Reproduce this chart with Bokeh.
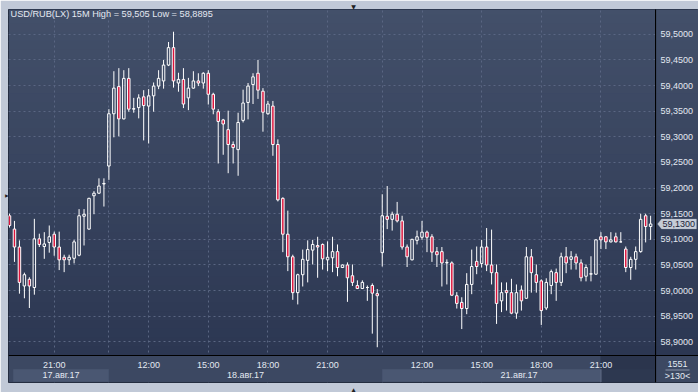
from bokeh.plotting import figure
from bokeh.models import FixedTicker, BoxAnnotation, PolyAnnotation, Label, Title, ColumnDataSource, Range1d
from bokeh.embed import file_html
from bokeh.resources import INLINE

# ---------------- data (15-minute USD/RUB candles) -------------
opens = [59.146, 59.120, 59.085, 59.009, 59.022, 59.006, 59.101, 59.086, 59.094, 59.110,
         59.085, 59.065, 59.060, 59.063, 59.069, 59.145, 59.120, 59.185, 59.190, 59.208,
         59.243, 59.345, 59.398, 59.335, 59.414, 59.354, 59.357, 59.378, 59.360, 59.380,
         59.399, 59.409, 59.440, 59.474, 59.405, 59.412, 59.376, 59.395, 59.409, 59.405,
         59.424, 59.383, 59.349, 59.333, 59.314, 59.285, 59.275, 59.332, 59.367, 59.402,
         59.424, 59.389, 59.345, 59.360, 59.285, 59.180, 59.110, 59.066, 58.996, 59.031,
         59.059, 59.079, 59.088, 59.090, 59.060, 59.064, 59.076, 59.045, 59.050, 59.029,
         59.010, 59.004, 59.006, 59.010, 58.994, 59.074, 59.145, 59.139, 59.149, 59.136,
         59.085, 59.060, 59.098, 59.104, 59.114, 59.105, 59.076, 59.076, 59.054, 59.054,
         58.990, 58.977, 58.965, 59.012, 59.057, 59.053, 59.085, 59.050, 59.035, 58.980,
         59.000, 58.996, 58.956, 59.001, 58.985, 59.066, 59.031, 59.019, 58.966, 59.010,
         59.035, 59.016, 59.066, 59.061, 59.066, 59.054, 59.028, 59.032, 59.032, 59.105,
         59.105, 59.095, 59.105, 59.095, 59.081, 59.045, 59.061, 59.076, 59.146, 59.125]
highs = [59.150, 59.136, 59.098, 59.035, 59.026, 59.140, 59.111, 59.114, 59.127, 59.115,
         59.115, 59.070, 59.070, 59.099, 59.159, 59.159, 59.181, 59.194, 59.219, 59.219,
         59.354, 59.428, 59.434, 59.430, 59.434, 59.376, 59.383, 59.391, 59.393, 59.406,
         59.430, 59.450, 59.485, 59.505, 59.425, 59.434, 59.415, 59.428, 59.424, 59.426,
         59.430, 59.386, 59.354, 59.335, 59.351, 59.291, 59.347, 59.392, 59.405, 59.424,
         59.450, 59.395, 59.370, 59.370, 59.295, 59.182, 59.156, 59.070, 59.033, 59.080,
         59.098, 59.099, 59.105, 59.092, 59.096, 59.105, 59.090, 59.051, 59.055, 59.051,
         59.020, 59.020, 59.010, 59.014, 59.003, 59.188, 59.204, 59.154, 59.173, 59.146,
         59.090, 59.101, 59.117, 59.136, 59.117, 59.110, 59.085, 59.085, 59.061, 59.057,
         58.997, 58.987, 59.034, 59.080, 59.086, 59.099, 59.122, 59.119, 59.051, 59.016,
         59.016, 59.023, 59.012, 59.010, 59.085, 59.081, 59.051, 59.022, 59.024, 59.041,
         59.043, 59.074, 59.085, 59.077, 59.072, 59.061, 59.051, 59.067, 59.100, 59.114,
         59.106, 59.114, 59.113, 59.114, 59.086, 59.066, 59.086, 59.150, 59.150, 59.146]
lows = [59.123, 59.056, 58.994, 58.985, 58.966, 58.992, 59.085, 59.062, 59.074, 59.068,
        59.040, 59.036, 59.050, 59.053, 59.067, 59.088, 59.119, 59.149, 59.189, 59.164,
        59.216, 59.299, 59.301, 59.334, 59.349, 59.347, 59.336, 59.293, 59.287, 59.349,
        59.393, 59.394, 59.438, 59.396, 59.388, 59.356, 59.352, 59.394, 59.399, 59.394,
        59.363, 59.344, 59.248, 59.265, 59.229, 59.248, 59.224, 59.328, 59.334, 59.364,
        59.374, 59.310, 59.343, 59.263, 59.174, 59.075, 59.038, 58.982, 58.973, 59.008,
        59.016, 59.051, 59.025, 59.041, 59.038, 59.036, 59.028, 59.044, 58.978, 59.009,
        59.003, 59.003, 58.980, 58.916, 58.8895, 59.047, 59.120, 59.117, 59.133, 59.080,
        59.046, 59.059, 59.090, 59.099, 59.075, 59.056, 59.046, 59.008, 59.012, 58.990,
        58.965, 58.925, 58.954, 58.993, 59.032, 59.045, 59.038, 59.012, 58.935, 58.958,
        58.961, 58.954, 58.945, 58.961, 58.984, 58.996, 58.996, 58.933, 58.962, 58.993,
        58.980, 59.009, 59.034, 59.041, 59.041, 59.018, 59.018, 59.018, 59.031, 59.081,
        59.081, 59.094, 59.094, 59.094, 59.036, 59.021, 59.041, 59.074, 59.094, 59.099]
closes = [59.127, 59.085, 59.016, 59.031, 59.009, 59.101, 59.090, 59.091, 59.105, 59.085,
          59.060, 59.060, 59.065, 59.095, 59.146, 59.149, 59.180, 59.190, 59.204, 59.209,
          59.345, 59.395, 59.335, 59.414, 59.354, 59.355, 59.376, 59.361, 59.380, 59.399,
          59.414, 59.440, 59.474, 59.409, 59.412, 59.364, 59.395, 59.409, 59.405, 59.424,
          59.383, 59.354, 59.330, 59.325, 59.285, 59.279, 59.328, 59.366, 59.399, 59.417,
          59.391, 59.348, 59.364, 59.285, 59.177, 59.110, 59.066, 58.996, 59.031, 59.061,
          59.080, 59.090, 59.085, 59.062, 59.065, 59.076, 59.045, 59.050, 59.025, 59.016,
          59.004, 59.016, 59.006, 58.995, 58.990, 59.146, 59.139, 59.149, 59.136, 59.085,
          59.066, 59.100, 59.105, 59.114, 59.104, 59.075, 59.070, 59.054, 59.055, 58.991,
          58.975, 58.965, 59.012, 59.047, 59.047, 59.085, 59.050, 59.035, 58.975, 58.996,
          58.996, 58.956, 58.996, 58.980, 59.066, 59.035, 59.016, 58.961, 59.016, 59.037,
          59.016, 59.066, 59.054, 59.066, 59.054, 59.025, 59.045, 59.033, 59.099, 59.099,
          59.095, 59.099, 59.095, 59.095, 59.045, 59.061, 59.076, 59.139, 59.125, 59.130]

title_text = "USD/RUB(LX) 15M High = 59,505 Low = 58,8895"
price_ticks = [58.90, 58.95, 59.00, 59.05, 59.10, 59.15, 59.20, 59.25, 59.30, 59.35, 59.40, 59.45, 59.50]
time_ticks = [9, 28, 40, 52, 64, 83, 95, 107, 119]
time_labels = ["21:00", "12:00", "15:00", "18:00", "21:00", "12:00", "15:00", "18:00", "21:00"]
day_starts = [0.75, 20, 75]
day_ends = [20, 75, 130]
day_labels = ["17.авг.17", "18.авг.17", "21.авг.17"]
bar_count_text = "1551"
visible_text = ">130<"

# ---------------- styling ----------------
FONT = "Liberation Sans"
TXT = "#e3e8f1"
OUTER = "#c1c9d7"
RED = "#dc143c"
GRID = "#5a6683"
PANEL = "#3c4862"
BAND = "#4a5772"

n = len(opens)
xs = list(range(n))
body_top = [max(o, c) for o, c in zip(opens, closes)]
body_bot = [min(o, c) for o, c in zip(opens, closes)]
fills = [RED if c < o else "#000000" for o, c in zip(opens, closes)]
falpha = [1.0 if c < o else 0.0 for o, c in zip(opens, closes)]

# frame covers chart + price panel + time panel: x 8..698, y 8..384 (px)
FW, FH = 690, 376          # frame size in px
CW, TH = 647, 27           # chart width, time-panel height
Y0, Y1 = 58.8207, 59.5484
UPX = (Y1 - Y0) / FH       # price units per pixel

p = figure(width=698, height=392, x_range=Range1d(-0.2, -0.2 + FW / 4.97),
           y_range=Range1d(Y0, Y1),
           y_axis_location="right", output_backend="svg", toolbar_location=None,
           min_border_left=8, min_border_top=8, min_border_right=0, min_border_bottom=8,
           border_fill_color=OUTER, background_fill_color=PANEL,
           outline_line_color="#1d2436", outline_line_width=1)


def box(l, r, b, t, color, level, alpha=1.0, lu="screen", ru="screen"):
    p.add_layout(BoxAnnotation(left=l, right=r, bottom=b, top=t, left_units=lu, right_units=ru,
                               top_units="screen", bottom_units="screen",
                               fill_color=color, fill_alpha=alpha, level=level, line_color=None))


# background gradient of chart (under grid)
top_rgb = (67, 80, 106)
bot_rgb = (44, 55, 82)
nb = 40
ch = FH - TH
for i in range(nb):
    t = (i + 0.5) / nb
    col = "#%02x%02x%02x" % tuple(int(round(a + (b - a) * t)) for a, b in zip(top_rgb, bot_rgb))
    y1 = FH - i * ch / nb
    y0 = FH - (i + 1) * ch / nb
    box(0, CW, y0 - 0.6, y1 + 0.6, col, "image")
    box(CW, FW, y0 - 0.6, y1 + 0.6, col, "underlay")   # price panel (covers grid)

# time panel and day bands (over grid)
box(0, FW, 0, TH, PANEL, "underlay")
band_cols = [BAND, PANEL, BAND]
for s, e, bc in zip(day_starts, day_ends, band_cols):
    box(s, e, 0.7, 13.3, bc, "underlay", lu="data", ru="data")
box(118.9, CW, 0.5, TH, "#28324a", "underlay", alpha=0.85, lu="data")
box(118.9, 119.1, 0.5, 13.3, "#6a7590", "underlay", lu="data", ru="data")

# black separators
box(CW - 0.5, CW + 0.6, 0, FH, "black", "annotation")
box(0, FW, TH - 0.5, TH + 0.6, "black", "annotation")
box(657, 681, 12.0, 13.0, "#8c96aa", "annotation")

# grids
p.xgrid.ticker = FixedTicker(ticks=sorted(time_ticks + day_starts[1:]))
p.xgrid.grid_line_color = GRID
p.xgrid.grid_line_dash = "2 3"
p.ygrid.grid_line_color = GRID
p.ygrid.grid_line_dash = "2 3"

# price axis (right, labels pulled into the price panel)
yax = p.yaxis[0]
yax.ticker = FixedTicker(ticks=price_ticks)
yax.major_label_overrides = {t: ("%.4f" % t).replace(".", ",") for t in price_ticks}
yax.major_tick_line_color = None
yax.minor_tick_line_color = None
yax.axis_line_color = None
yax.major_label_standoff = -44
yax.major_label_text_font = FONT
yax.major_label_text_font_size = "9px"
yax.major_label_text_color = TXT

# time axis (below, labels pulled into the time panel); day names on a second line
day_centers = [(s + e) / 2 for s, e in zip(day_starts, day_ends)]
overrides = {t: l for t, l in zip(time_ticks, time_labels)}
overrides.update({c: "\n" + l for c, l in zip(day_centers, day_labels)})
xax = p.xaxis[0]
xax.ticker = FixedTicker(ticks=sorted(time_ticks + day_centers))
xax.major_label_overrides = overrides
xax.major_tick_line_color = None
xax.minor_tick_line_color = None
xax.axis_line_color = None
xax.major_label_standoff = -29
xax.major_label_text_line_height = 1.05
xax.major_label_text_font = FONT
xax.major_label_text_font_size = "9px"
xax.major_label_text_color = TXT

# candles
src = ColumnDataSource(dict(x=xs, h=highs, l=lows, top=body_top, bot=body_bot, fill=fills, fa=falpha))
p.segment(x0="x", y0="h", x1="x", y1="top", source=src, line_color="white", line_width=1)
p.segment(x0="x", y0="bot", x1="x", y1="l", source=src, line_color="white", line_width=1)
p.vbar(x="x", width=0.5, top="top", bottom="bot", source=src,
       fill_color="fill", fill_alpha="fa", line_color="white", line_width=1)

# texts
p.add_layout(Label(x=2, y=FH - 7, x_units="screen", y_units="screen", text=title_text,
                   text_font=FONT, text_font_size="9.2px", text_color=TXT, text_baseline="middle"))
p.add_layout(Label(x=669, y=19, x_units="screen", y_units="screen", text=bar_count_text,
                   text_font=FONT, text_font_size="9px", text_color=TXT, text_baseline="middle",
                   text_align="center"))
p.add_layout(Label(x=669, y=7, x_units="screen", y_units="screen", text=visible_text,
                   text_font=FONT, text_font_size="9px", text_color=TXT, text_baseline="middle",
                   text_align="center"))

# current price marker on the price panel
last = closes[-1]
hh = 5 * UPX
p.add_layout(PolyAnnotation(xs=[649, 653, 688, 688, 653], ys=[last, last + hh, last + hh, last - hh, last - hh],
                            xs_units="screen", ys_units="data", fill_color="#c6ccd7", fill_alpha=1,
                            line_color="#9aa3b4", line_width=1, level="annotation"))
p.add_layout(Label(x=654, y=last, x_units="screen", y_units="data", text=("%.4f" % last).replace(".", ","),
                   text_font=FONT, text_font_size="9px", text_color="#1a2236", text_baseline="middle"))

# small navigation triangles in the outer frame
p.add_layout(Title(text="▼", align="center", offset=-4, standoff=0, text_font="DejaVu Sans",
                   text_font_size="6px", text_color="#202020", text_font_style="normal"), "above")
p.add_layout(Title(text="▲", align="center", offset=-4, standoff=0, text_font="DejaVu Sans",
                   text_font_size="6px", text_color="#202020", text_font_style="normal"), "below")
p.add_layout(Title(text="▼", align="center", standoff=0, text_font="DejaVu Sans",
                   text_font_size="4.5px", text_line_height=1.0, text_color="#202020",
                   text_font_style="normal"), "left")

open("out.html", "w").write(file_html(p, INLINE))
